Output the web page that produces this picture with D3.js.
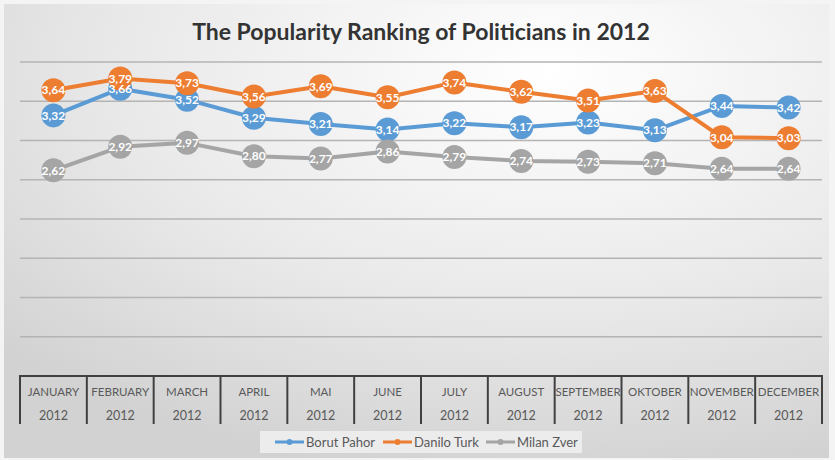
<!DOCTYPE html>
<html>
<head>
<meta charset="utf-8">
<script src="https://cdn.jsdelivr.net/npm/d3@7"></script>
<style>
  body { margin: 0; background: #fff; }
  svg { display: block; font-family: Lato, "Open Sans", sans-serif; }
</style>
</head>
<body>
<svg id="chart"></svg>
<script>
// Data
const months = ["JANUARY", "FEBRUARY", "MARCH", "APRIL", "MAI", "JUNE", "JULY", "AUGUST", "SEPTEMBER", "OKTOBER", "NOVEMBER", "DECEMBER"];
const years = ["2012", "2012", "2012", "2012", "2012", "2012", "2012", "2012", "2012", "2012", "2012", "2012"];
const seriesNames = ["Borut Pahor", "Danilo Turk", "Milan Zver"];
const borutPahor = [3.32, 3.66, 3.52, 3.29, 3.21, 3.14, 3.22, 3.17, 3.23, 3.13, 3.44, 3.42];
const daniloTurk = [3.64, 3.79, 3.73, 3.56, 3.69, 3.55, 3.74, 3.62, 3.51, 3.63, 3.04, 3.03];
const milanZver = [2.62, 2.92, 2.97, 2.80, 2.77, 2.86, 2.79, 2.74, 2.73, 2.71, 2.64, 2.64];
const colors = ["#5b9bd5", "#ed7d31", "#a5a5a5"];

const W = 835, H = 460;
const margin = { top: 62, right: 13, bottom: 84, left: 20 };
const width = W - margin.left - margin.right;
const height = H - margin.top - margin.bottom;

const root = d3.select("#chart").attr("width", W).attr("height", H);

// background gradient (light spot near the top right)
const defs = root.append("defs");
const grad = defs.append("radialGradient")
  .attr("id", "bg")
  .attr("cx", "0.66").attr("cy", "0.15").attr("r", "0.9");
grad.append("stop").attr("offset", "0%").attr("stop-color", "#ffffff");
grad.append("stop").attr("offset", "60%").attr("stop-color", "#e8e8e8");
grad.append("stop").attr("offset", "100%").attr("stop-color", "#d2d2d2");

root.append("rect").attr("width", W).attr("height", H).attr("fill", "#f4f4f4");
root.append("rect")
  .attr("x", 4).attr("y", 4)
  .attr("width", W - 10).attr("height", H - 6)
  .attr("fill", "url(#bg)");

// title
root.append("text")
  .attr("x", 421).attr("y", 40)
  .attr("text-anchor", "middle")
  .style("font-size", "23px")
  .style("font-weight", "bold")
  .style("fill", "#333")
  .text("The Popularity Ranking of Politicians in 2012");

const svg = root.append("g").attr("transform", `translate(${margin.left}, ${margin.top})`);

const xScale = d3.scaleBand().domain(d3.range(months.length)).range([0, width]);
const yScale = d3.scaleLinear().domain([0, 4]).range([height, 0]);

// gridlines
svg.append("g")
  .selectAll("line")
  .data(yScale.ticks(8).filter(d => d > 0))
  .enter()
  .append("line")
  .attr("x1", 0).attr("x2", width)
  .attr("y1", d => yScale(d)).attr("y2", d => yScale(d))
  .attr("stroke", "#b4b4b4")
  .attr("stroke-width", 1.5);

// category axis drawn as boxes
const axis = svg.append("g").attr("transform", `translate(0, ${height})`);
axis.append("line")
  .attr("x1", -1).attr("x2", width + 1)
  .attr("stroke", "#404040").attr("stroke-width", 2);
axis.selectAll(".div")
  .data(d3.range(months.length + 1))
  .enter()
  .append("line")
  .attr("x1", i => i < months.length ? xScale(i) : width)
  .attr("x2", i => i < months.length ? xScale(i) : width)
  .attr("y1", 0).attr("y2", 48)
  .attr("stroke", "#404040").attr("stroke-width", 2);
axis.selectAll(".month")
  .data(months)
  .enter()
  .append("text")
  .attr("x", (d, i) => xScale(i) + xScale.bandwidth() / 2)
  .attr("y", 16)
  .attr("dy", "0.35em")
  .attr("text-anchor", "middle")
  .style("font-size", "11.5px")
  .style("fill", "#595959")
  .text(d => d);
axis.selectAll(".year")
  .data(years)
  .enter()
  .append("text")
  .attr("x", (d, i) => xScale(i) + xScale.bandwidth() / 2)
  .attr("y", 40)
  .attr("dy", "0.35em")
  .attr("text-anchor", "middle")
  .style("font-size", "12.5px")
  .style("fill", "#595959")
  .text(d => d);

const allSeries = [borutPahor, daniloTurk, milanZver];
const cx = i => xScale(i) + xScale.bandwidth() / 2;

const line = d3.line()
  .x((d, i) => cx(i))
  .y(d => yScale(d));

// lines + markers for each series
allSeries.forEach((values, s) => {
  const g = svg.append("g");
  g.append("path")
    .datum(values)
    .attr("fill", "none")
    .attr("stroke", colors[s])
    .attr("stroke-width", 4)
    .attr("stroke-linejoin", "round")
    .attr("d", line);
  g.selectAll("circle")
    .data(values)
    .enter()
    .append("circle")
    .attr("cx", (d, i) => cx(i))
    .attr("cy", d => yScale(d))
    .attr("r", 12)
    .attr("fill", colors[s]);
});

// data labels on top
const fmt = d3.format(".2f");
allSeries.forEach((values, s) => {
  svg.append("g")
    .selectAll("text")
    .data(values)
    .enter()
    .append("text")
    .attr("x", (d, i) => cx(i))
    .attr("y", d => yScale(d))
    .attr("dy", "0.35em")
    .attr("text-anchor", "middle")
    .style("font-size", "12px")
    .style("font-weight", "bold")
    .style("fill", "#fff")
    .text(d => fmt(d).replace(".", ","));
});

// legend
const legend = root.append("g").attr("transform", "translate(260, 431)");
legend.append("rect")
  .attr("width", 322).attr("height", 22)
  .attr("fill", "#ececec");
const legendX = [15, 123, 226];
seriesNames.forEach((name, s) => {
  const item = legend.append("g").attr("transform", `translate(${legendX[s]}, 11)`);
  item.append("line")
    .attr("x1", 0).attr("x2", 29)
    .attr("stroke", colors[s]).attr("stroke-width", 3);
  item.append("circle").attr("cx", 14.5).attr("r", 3).attr("fill", colors[s]);
  item.append("text")
    .attr("x", 31)
    .attr("dy", "0.35em")
    .style("font-size", "13px")
    .style("fill", "#595959")
    .text(name);
});
</script>
</body>
</html>
